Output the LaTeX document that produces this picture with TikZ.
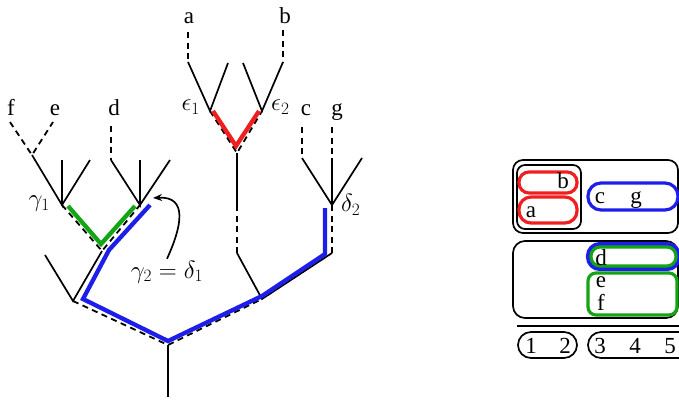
\documentclass[tikz,border=0pt]{standalone}
\usepackage{amsmath,amssymb}
\usepackage{fontspec}
\setmainfont{Liberation Serif}
\usetikzlibrary{arrows.meta}
\definecolor{pathred}{RGB}{240,30,30}
\definecolor{pathblue}{RGB}{30,30,235}
\definecolor{pathgreen}{RGB}{20,165,20}

\begin{document}
\begin{tikzpicture}[x=1pt,y=-1pt,
		edge/.style={line width=1.7pt},
		dsh/.style={line width=1.8pt,dash pattern=on 6pt off 4.5pt},
		hl/.style={line width=4.3pt},
		frame/.style={line width=1.7pt},
		pill/.style={line width=3.2pt},
		lf/.style={anchor=base,inner sep=0pt,font=\fontsize{23}{25}\selectfont},
		bx/.style={anchor=base,inner sep=0pt,font=\fontsize{23}{25}\selectfont},
		vl/.style={inner sep=2pt,font=\fontsize{27}{31}\selectfont}]
			\useasboundingbox (0,0) rectangle (679,399);
			% tree vertices
			\coordinate (stem) at (168,397);
			\coordinate (root) at (168,345);
			\coordinate (lv) at (73,301);
			\coordinate (lvl) at (45,255);
			\coordinate (j1) at (102,251);
			\coordinate (g1) at (62,205);
			\coordinate (d1) at (140,205);
			\coordinate (jfe) at (32,155);
			\coordinate (rv) at (262,299);
			\coordinate (rvl) at (237,253);
			\coordinate (rvr) at (332,253);
			\coordinate (mid) at (237,207);
			\coordinate (ej) at (237,153);
			\coordinate (e1) at (210,111);
			\coordinate (e2) at (262,111);
			\coordinate (d2) at (332,205);
			% leaves
			\node[lf] (la) at (189,23) {a};
			\node[lf] (lb) at (285,23) {b};
			\node[lf] (lf) at (11,115) {f};
			\node[lf] (le) at (55,115) {e};
			\node[lf] (ld) at (114,115) {d};
			\node[lf] (lc) at (306,115) {c};
			\node[lf] (lg) at (337,115) {g};
			\coordinate (ta) at (188,32);
			\coordinate (tb) at (283,30);
			\coordinate (tf) at (10,122);
			\coordinate (te) at (53,122);
			\coordinate (td) at (111,126);
			\coordinate (tc) at (302,127);
			\coordinate (tg) at (332,127);
			\coordinate (ba) at (188,62);
			\coordinate (bb) at (283,62);
			\coordinate (bd) at (111,160);
			\coordinate (bc) at (302,158);
			\coordinate (bg) at (332,158);
			% solid branches
			\draw[edge] (root) -- (stem);
			\draw[edge] (lvl) -- (lv) -- (j1);
			\draw[edge] (rvl) -- (rv) -- (rvr);
			\draw[edge] (ej) -- (mid);
			\draw[edge] (jfe) -- (g1) -- (62,160);
			\draw[edge] (g1) -- (90,160);
			\draw[edge] (bd) -- (d1) -- (140,160);
			\draw[edge] (d1) -- (170,160);
			\draw[edge] (bc) -- (d2) -- (bg);
			\draw[edge] (d2) -- (362,158);
			\draw[edge] (ba) -- (e1) -- (228,63);
			\draw[edge] (243,63) -- (e2) -- (bb);
			% dashed branches
			\draw[dsh] (lv) -- (root) -- (rv);
			\draw[dsh] (g1) -- (j1) -- (d1);
			\draw[dsh] (tf) -- (jfe) -- (te);
			\draw[dsh] (rvl) -- (mid);
			\draw[dsh] (rvr) -- (d2);
			\draw[dsh] (e1) -- (ej) -- (e2);
			\draw[dsh] (ta) -- (ba);
			\draw[dsh] (tb) -- (bb);
			\draw[dsh] (td) -- (bd);
			\draw[dsh] (tc) -- (bc);
			\draw[dsh] (tg) -- (bg);
			% highlighted paths
			\draw[hl,pathred] (213,111) -- (236,146) -- (259,111);
			\draw[hl,pathgreen] (68,206) -- (101,244) -- (135,206);
			\draw[hl,pathblue] (150,205) -- (109,250) -- (83,299) -- (168,341) -- (262,296) -- (325,254) -- (325,208);
			% vertex labels
			\node[vl,anchor=east] (lg1) at (52,204) {$\gamma_1$};
			\node[vl,anchor=west] (ld2) at (339,205) {$\delta_2$};
			\node[vl,anchor=east] (le1) at (202,107) {$\epsilon_1$};
			\node[vl,anchor=west] (le2) at (269,107) {$\epsilon_2$};
			\node[vl] (eq) at (167,272) {$\gamma_2 = \delta_1$};
			\coordinate (d1tip) at (153,198);
			\draw[edge,-{Stealth[length=9pt,width=7pt]}] (eq.north) .. controls (182,226) and (188,196) .. (d1tip);
			% blocks
			\draw[frame,rounded corners=10pt] (513,160) rectangle (678,233);
			\draw[frame,rounded corners=8pt] (517,165) rectangle (581,229);
			\draw[pill,pathred,rounded corners=10pt] (519,172) rectangle (577,193);
			\draw[pill,pathred,rounded corners=12pt] (519,197) rectangle (577,223);
			\draw[pill,pathblue,rounded corners=13pt] (588,183) rectangle (678,210);
			\draw[frame,rounded corners=12pt] (513,241) rectangle (678,318);
			\draw[pill,pathblue,line width=4.2pt,rounded corners=12pt] (588,244) rectangle (679,269);
			\draw[pill,pathgreen,rounded corners=9pt] (591,247) rectangle (676,266);
			\draw[pill,pathgreen,rounded corners=8pt] (588,273) rectangle (677,315);
			\draw[frame] (517,326) -- (679,326);
			\draw[frame,rounded corners=13pt] (518,332) rectangle (577,358);
			\draw[frame,rounded corners=13pt] (588,332) rectangle (692,358);
			\node[bx] (bxb) at (563,188) {b};
			\node[bx] (bxa) at (531,217) {a};
			\node[bx] (bxc) at (600,203) {c};
			\node[bx] (bxg) at (636,203) {g};
			\node[bx] (bxd) at (601,265) {d};
			\node[bx] (bxe) at (601,287) {e};
			\node[bx] (bxf) at (601,310) {f};
			\node[bx] (n1) at (531,353) {1};
			\node[bx] (n2) at (565,353) {2};
			\node[bx] (n3) at (600,353) {3};
			\node[bx] (n4) at (635,353) {4};
			\node[bx] (n5) at (670,353) {5};
		\end{tikzpicture}
\end{document}
